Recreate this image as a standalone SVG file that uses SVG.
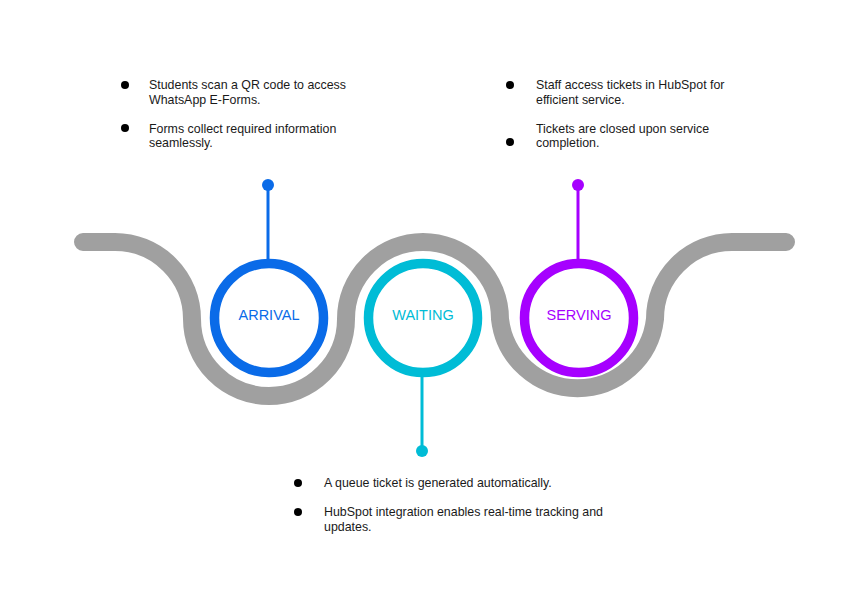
<svg xmlns="http://www.w3.org/2000/svg" width="862" height="594" viewBox="0 0 862 594">
<style>
.t{font-family:"Liberation Sans",Arial,sans-serif;font-size:12.4px;fill:#1a1a1a}
.lbl{font-family:"Liberation Sans",Arial,sans-serif;font-size:14.5px;text-anchor:middle}
.b{fill:#000}
</style>
<rect width="862" height="594" fill="#fff"/>
<g id="track">
<path d="M83 242 H115 A77 77 0 0 1 192 319 A77 77 0 0 0 346 319 A77 77 0 0 1 500 319 A78 78 0 0 0 655 319 A77 77 0 0 1 732 242 H786" fill="none" stroke="#a0a0a0" stroke-width="18" stroke-linecap="round"/>
</g>
<g id="connectors">
<line x1="268" y1="185" x2="268" y2="262" stroke="#0a6be8" stroke-width="3"/>
<circle cx="268" cy="185" r="6" fill="#0a6be8"/>
<line x1="422" y1="374" x2="422" y2="451" stroke="#00bcd6" stroke-width="3"/>
<circle cx="422" cy="451" r="6" fill="#00bcd6"/>
<line x1="578" y1="185" x2="578" y2="262" stroke="#a600ff" stroke-width="3"/>
<circle cx="578" cy="185" r="6" fill="#a600ff"/>
</g>
<g id="arrival">
<circle cx="269" cy="318" r="54.5" fill="#fff" stroke="#0a6be8" stroke-width="9.5"/>
<text class="lbl" x="269" y="320" fill="#0a6be8">ARRIVAL</text>
</g>
<g id="waiting">
<circle cx="423" cy="318" r="54.5" fill="#fff" stroke="#00bcd6" stroke-width="9.5"/>
<text class="lbl" x="423" y="320" fill="#00bcd6">WAITING</text>
</g>
<g id="serving">
<circle cx="579" cy="318" r="54.5" fill="#fff" stroke="#a600ff" stroke-width="9.5"/>
<text class="lbl" x="579" y="320" fill="#a600ff">SERVING</text>
</g>
<g id="arrival-notes">
<circle class="b" cx="125" cy="85" r="4"/>
<circle class="b" cx="125" cy="128" r="4"/>
<text class="t" x="149" y="89">Students scan a QR code to access</text>
<text class="t" x="149" y="103.5">WhatsApp E-Forms.</text>
<text class="t" x="149" y="132.5">Forms collect required information</text>
<text class="t" x="149" y="147">seamlessly.</text>
</g>
<g id="serving-notes">
<circle class="b" cx="510" cy="85" r="4"/>
<circle class="b" cx="510" cy="142" r="4"/>
<text class="t" x="536" y="89">Staff access tickets in HubSpot for</text>
<text class="t" x="536" y="103.5">efficient service.</text>
<text class="t" x="536" y="132.5">Tickets are closed upon service</text>
<text class="t" x="536" y="147">completion.</text>
</g>
<g id="waiting-notes">
<circle class="b" cx="298" cy="483" r="4"/>
<circle class="b" cx="298" cy="512" r="4"/>
<text class="t" x="324" y="487">A queue ticket is generated automatically.</text>
<text class="t" x="324" y="516">HubSpot integration enables real-time tracking and</text>
<text class="t" x="324" y="530.5">updates.</text>
</g>
</svg>
